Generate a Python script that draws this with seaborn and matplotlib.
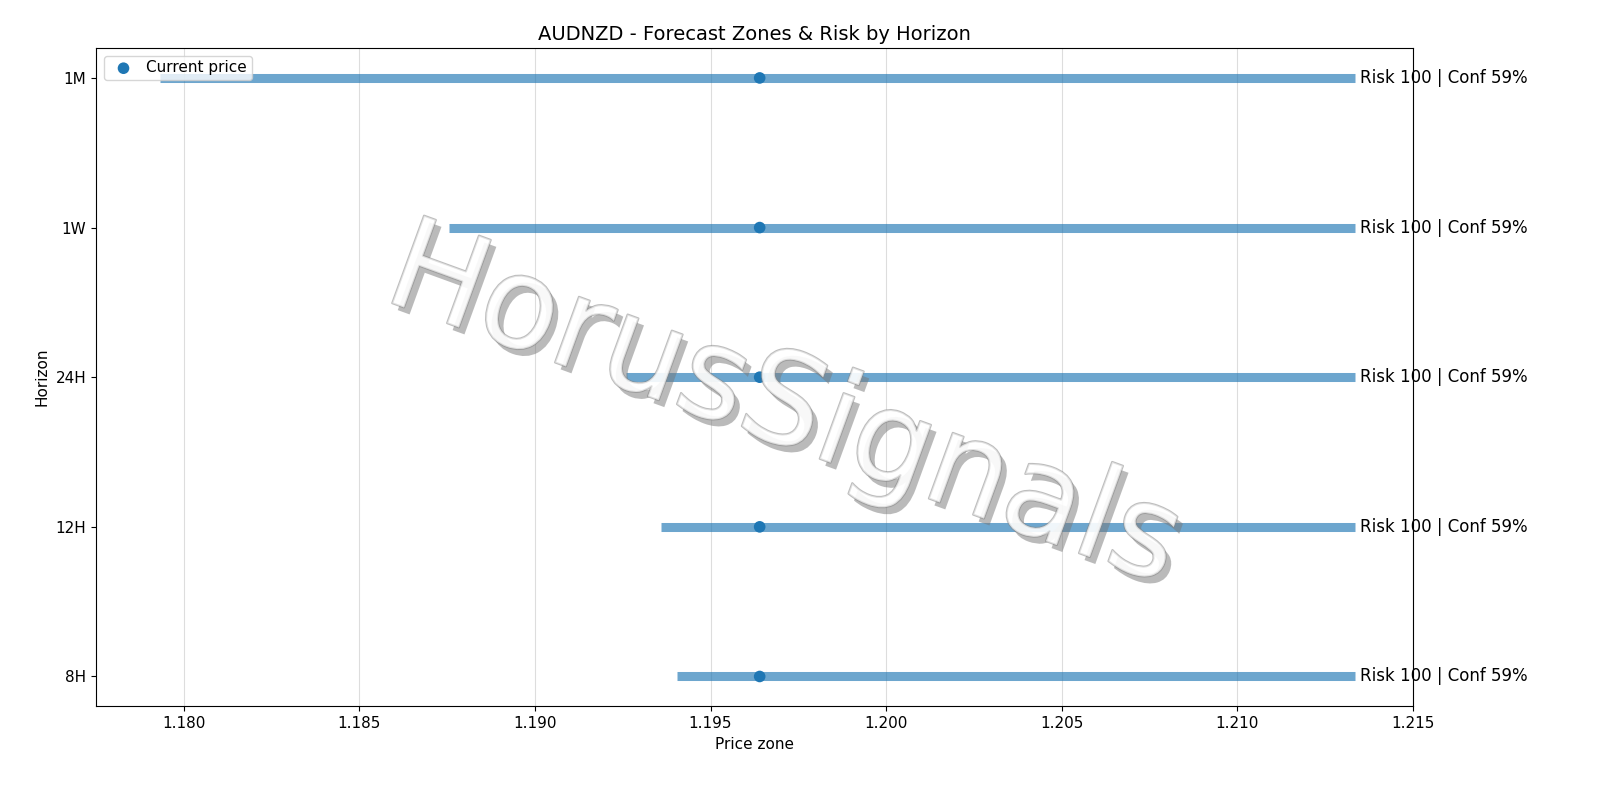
import matplotlib
matplotlib.use("Agg")
import matplotlib.pyplot as plt
import matplotlib.patheffects as pe
import seaborn as sns
import pandas as pd

horizons = ["8H", "12H", "24H", "1W", "1M"]
zone_low = [1.19404, 1.19359, 1.19259, 1.18754, 1.17932]
zone_high = [1.21336, 1.21336, 1.21336, 1.21336, 1.21336]
current_price = 1.19640
risk = [100, 100, 100, 100, 100]
conf = [59, 59, 59, 59, 59]

sns.set_style("ticks")
plt.rcParams['font.family'] = ['DejaVu Sans']
plt.rcParams['text.color'] = 'black'
plt.rcParams['axes.labelcolor'] = 'black'
plt.rcParams['xtick.color'] = 'black'
plt.rcParams['ytick.color'] = 'black'
plt.rcParams['axes.edgecolor'] = 'black'
fig, ax = plt.subplots(figsize=(16, 8), dpi=100)

ypos = list(range(len(horizons)))
for y, lo, hi in zip(ypos, zone_low, zone_high):
    ax.hlines(y, lo, hi, color="#1f77b4", alpha=0.65, linewidth=6.5)

df = pd.DataFrame({"price": [current_price] * len(horizons), "y": ypos})
sns.scatterplot(data=df, x="price", y="y", ax=ax, color="#1f77b4", s=70,
                edgecolor="none", label="Current price", zorder=3)

for y, hi, r, c in zip(ypos, zone_high, risk, conf):
    ax.text(hi + 0.00015, y, f"Risk {r} | Conf {c}%", va="center", ha="left", fontsize=12)

ax.set_yticks(ypos)
ax.set_yticklabels(horizons, fontsize=11)
ax.set_xlim(1.1775, 1.2150)
ax.set_ylim(-0.2, 4.2)
ax.set_xticks([1.180, 1.185, 1.190, 1.195, 1.200, 1.205, 1.210, 1.215])
ax.set_xticklabels([f"{v:.3f}" for v in ax.get_xticks()], fontsize=11)
ax.grid(axis="x", color="#dddddd", linewidth=0.8)
ax.set_axisbelow(True)
ax.set_xlabel("Price zone", fontsize=11)
ax.set_ylabel("Horizon", fontsize=11)
ax.set_title("AUDNZD - Forecast Zones & Risk by Horizon", fontsize=14)
ax.legend(loc="upper left", fontsize=11, borderpad=0.3, handletextpad=0.5)

fig.text(0.49, 0.49, "HorusSignals", rotation=-20, fontsize=92, color="white", alpha=0.55,
         ha="center", va="center",
         path_effects=[pe.withSimplePatchShadow(offset=(4, -5), shadow_rgbFace="#777777", alpha=0.5),
                       pe.Stroke(linewidth=1.5, foreground="#888888"), pe.Normal()])

fig.subplots_adjust(left=0.06, right=0.883, top=0.94, bottom=0.117)
fig.savefig("out.png", dpi=100)
